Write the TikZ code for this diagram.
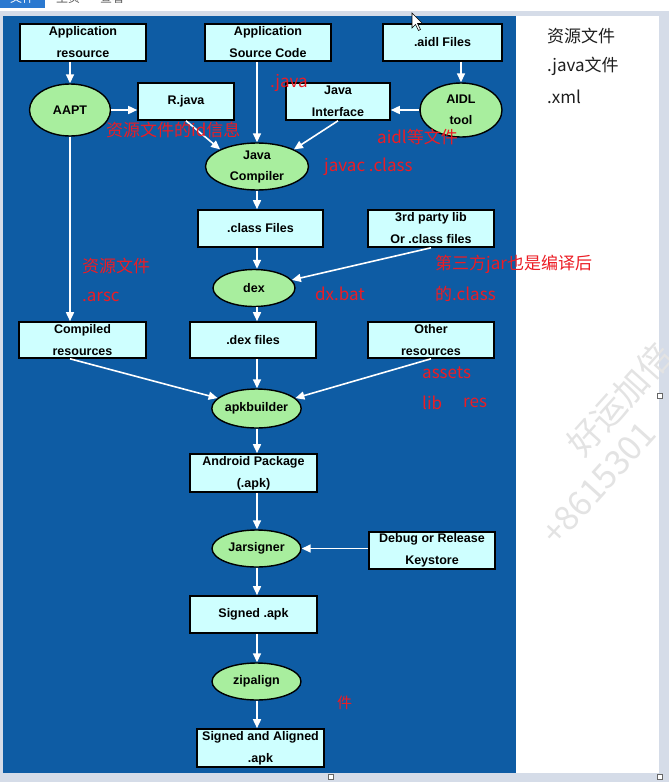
\documentclass[tikz,border=0pt]{standalone}
\usepackage{fontspec}
\setmainfont{Liberation Sans}
\newfontfamily\cjk{Noto Sans CJK SC}
\usetikzlibrary{shapes.geometric,arrows.meta}
\definecolor{panelblue}{RGB}{14,92,164}
\definecolor{boxfill}{RGB}{206,255,255}
\definecolor{ellfill}{RGB}{168,238,158}
\definecolor{notered}{RGB}{236,28,36}
\definecolor{framegray}{RGB}{213,220,232}
\definecolor{tabblue}{RGB}{43,121,208}
\begin{document}
\begin{tikzpicture}[x=1pt,y=-1pt,
  box/.style 2 args={draw=black, line width=1.6pt, fill=boxfill, minimum width=#1pt, minimum height=#2pt, inner sep=0pt, align=center, font=\fontsize{12.5}{22}\selectfont\bfseries},
  ell/.style 2 args={ellipse, draw=black, line width=1.4pt, fill=ellfill, minimum width=#1pt, minimum height=#2pt, inner sep=0pt, align=center, font=\fontsize{12.5}{21}\selectfont\bfseries},
  flow/.style={white, line width=1.6pt, -{Triangle[length=9pt,width=8pt]}},
  note/.style={text=notered, font=\cjk\fontsize{17}{20}\selectfont, anchor=west, inner sep=0pt},
  sidetext/.style={text=black!88, font=\cjk\fontsize{17}{20}\selectfont, anchor=west, inner sep=0pt},
  handle/.style={draw=black!60, fill=white, line width=0.6pt},
  wmark/.style={text=black!11, font=\cjk\fontsize{34}{36}\selectfont, anchor=west, inner sep=0pt, rotate=48},
]
\useasboundingbox (0,0) rectangle (669,782);
% screen frame
\fill[framegray] (0,0) rectangle (669,782);
\fill[white] (0,0) rectangle (669,11);
\begin{scope}
  \clip (0,0) rectangle (669,11);
  \fill[tabblue] (0,0) rectangle (45,8);
  \node[text=white, font=\cjk\fontsize{12}{14}\selectfont] (tab1) at (22,-2) {文件};
  \node[text=black!65, font=\cjk\fontsize{12}{14}\selectfont] (tab2) at (68,-2) {主页};
  \node[text=black!65, font=\cjk\fontsize{12}{14}\selectfont] (tab3) at (112,-2) {查看};
\end{scope}
\fill[panelblue] (3,16) rectangle (516,773);
\fill[white] (516,16) rectangle (659,773);

% nodes
\coordinate (spine) at (257,0);
\node[box={126}{37}] (appres) at (83,42.5) {Application\\resource};
\node[box={126}{37}] (appsrc) at (268,42.5) {Application\\Source Code};
\node[box={119}{37}] (aidlf) at (442.5,42.5) {.aidl Files};
\node[ell={81}{52}] (aapt) at (70,110) {AAPT};
\node[box={96}{37}] (rjava) at (186,101.5) {R.java};
\node[box={104}{37}] (jint) at (338,101.5) {Java\\Interface};
\node[ell={82}{54}] (aidl) at (461,110) {AIDL\\tool};
\node[ell={103}{47}] (jc) at (257,166.5) {Java\\Compiler};
\node[box={125}{37}] (classf) at (260.5,228.5) {.class Files};
\node[box={126}{37}] (third) at (431,228.5) {3rd party lib\\Or .class files};
\node[ell={82}{37}] (dex) at (254,288) {dex};
\node[box={127}{36}] (compres) at (82.5,340) {Compiled\\resources};
\node[box={126}{36}] (dexf) at (253,340) {.dex files};
\node[box={126}{36}] (other) at (431,340) {Other\\resources};
\node[ell={87}{39}] (apkb) at (256.5,408.5) {apkbuilder};
\node[box={127}{38}] (apk) at (253.5,473) {Android Package\\(.apk)};
\node[ell={89}{37}] (jar) at (256.5,548.5) {Jarsigner};
\node[box={126}{37}] (key) at (432,550.5) {Debug or Release\\Keystore};
\node[box={127}{37}] (signed) at (253.5,614.5) {Signed .apk};
\node[ell={89}{37}] (zip) at (256.5,681.5) {zipalign};
\node[box={127}{38}] (saa) at (260.5,748) {Signed and Aligned\\.apk};

% connectors
\draw[flow] (aapt.north |- appres.south) -- (aapt.north);
\draw[flow] (aapt.east) -- (aapt.east -| rjava.west);
\draw[flow] (aapt.south) -- (aapt.south |- compres.north);
\draw[flow] (jc.north |- appsrc.south) -- (jc.north);
\draw[flow] (rjava.south) -- (jc.north west);
\draw[flow] (jint.south) -- (jc.north east);
\draw[flow] (aidl.north |- aidlf.south) -- (aidl.north);
\draw[flow] (aidl.west) -- (aidl.west -| jint.east);
\draw[flow] (jc.south) -- (jc.south |- classf.north);
\draw[flow] (classf.south -| spine) -- (dex.north -| spine);
\draw[flow] (third.south) -- (dex.12);
\draw[flow] (dex.south -| spine) -- (dexf.north -| spine);
\draw[flow] (dexf.south -| spine) -- (apkb.north -| spine);
\draw[flow] (compres.south -| aapt.south) -- (apkb.165);
\draw[flow] (other.south) -- (apkb.15);
\draw[flow] (apkb.south -| spine) -- (apk.north -| spine);
\draw[flow] (apk.south -| spine) -- (jar.north -| spine);
\draw[flow] (jar.east -| key.west) -- (jar.east);
\draw[flow] (jar.south -| spine) -- (signed.north -| spine);
\draw[flow] (signed.south -| spine) -- (zip.north -| spine);
\draw[flow] (zip.south -| spine) -- (saa.north -| spine);

% red annotations
\node[note] (n1) at (270,83) {.java};
\node[note] (n2) at (106,130) {资源文件的id信息};
\node[note] (n3) at (377,137) {aidl等文件};
\node[note] (n4) at (324,167) {javac .class};
\node[note] (n5) at (82,266) {资源文件};
\node[note] (n6) at (82,297) {.arsc};
\node[note] (n7) at (315,294) {dx.bat};
\node[note] (n8) at (435,264) {第三方jar也是编译后};
\node[note] (n9) at (435,294) {的.class};
\node[note] (n10) at (422,373) {assets};
\node[note] (n11) at (422,403) {lib};
\node[note] (n12) at (463,403) {res};
\node[note, font=\cjk\fontsize{15}{17}\selectfont] (n13) at (337,703) {件};

% right panel text
\node[sidetext] (s1) at (547,36) {资源文件};
\node[sidetext] (s2) at (547,66) {.java文件};
\node[sidetext] (s3) at (547,97) {.xml};

% watermark
\node[wmark] (w1) at (574,450) {好运加倍};
\node[wmark] (w2) at (548,540) {+8615301};

% window handles and cursor
\draw[handle] (328.5,774.5) rectangle (333.5,779.5);
\draw[handle] (657.5,774.5) rectangle (662.5,779.5);
\draw[handle] (657.5,393.5) rectangle (662.5,398.5);
\draw[fill=white, draw=black, line width=0.6pt] (412,13) -- (412,28) -- (415.5,24.5) -- (418.5,30.5) -- (420.5,29.5) -- (417.5,23.5) -- (422.5,23.5) -- cycle;
\end{tikzpicture}
\end{document}
